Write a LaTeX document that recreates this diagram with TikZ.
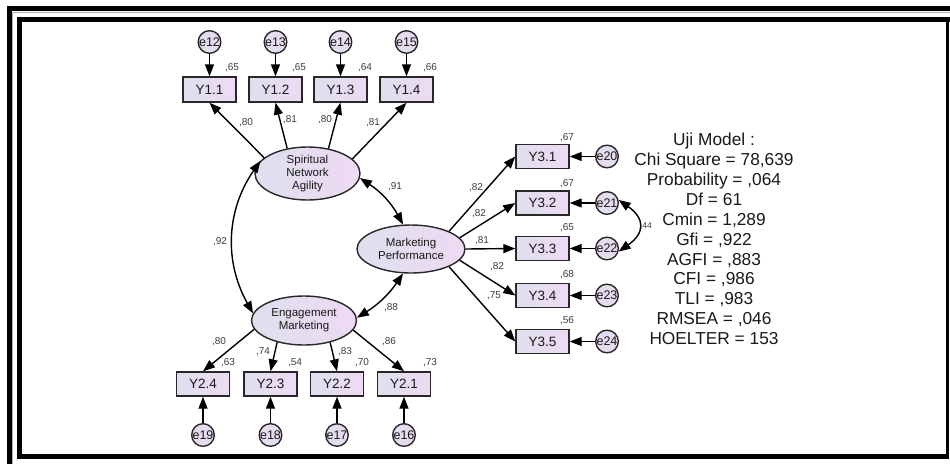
\documentclass[tikz,border=0pt]{standalone}
\usepackage{fontspec}
\setmainfont{Liberation Sans}
\usetikzlibrary{arrows.meta,shapes.geometric}

\definecolor{fillL}{RGB}{222,223,238}
\definecolor{fillR}{RGB}{238,218,243}
\definecolor{errfill}{RGB}{230,220,240}
\definecolor{edge}{RGB}{40,40,40}
\definecolor{txt}{RGB}{25,25,25}
\definecolor{framegray}{RGB}{175,175,175}

\begin{document}
\begin{tikzpicture}[x=1pt,y=1pt,
  obs/.style={draw=edge, line width=1.4pt, rectangle, minimum width=53pt,
    minimum height=25pt, inner sep=0pt, left color=fillL, right color=fillR,
    text=txt, font=\fontsize{13.5}{15}\selectfont},
  lat/.style={draw=edge, line width=1.4pt, ellipse, inner sep=0pt,
    left color=fillL, right color=fillR, text=txt, align=center,
    font=\fontsize{11.5}{13.3}\selectfont},
  err/.style={draw=edge, line width=1.4pt, circle, minimum size=22pt,
    inner sep=0pt, fill=errfill, text=txt, font=\fontsize{12.5}{14}\selectfont},
  coef/.style={inner sep=0pt, text=txt!85, font=\fontsize{10}{11}\selectfont},
  stats/.style={inner sep=0pt, align=center, text=txt,
    font=\fontsize{17.3}{19.9}\selectfont},
  tip/.tip={Triangle[length=12pt,width=9pt]},
  pth/.style={-tip, line width=1.4pt},
  cov/.style={tip-tip, line width=1.4pt},
]
\useasboundingbox (0,0) rectangle (950,-464);

% double frame
\fill[black] (7,-6) rectangle (950,-11);
\fill[black] (7,-6) rectangle (12,-464);
\draw[framegray, line width=1pt] (12.5,-464) -- (12.5,-12.5) -- (950,-12.5);
\fill[black] (17,-17) rectangle (950,-22);
\fill[black] (17,-17) rectangle (22,-459);
\fill[black] (17,-454) rectangle (948.5,-459);
\fill[black] (945.5,-17) rectangle (948.5,-459);

% latent variables
\node[lat, minimum width=105pt, minimum height=53pt] (spa) at (307.5,-173.5)
  {Spiritual\\Network\\Agility};
\node[lat, minimum width=108pt, minimum height=48pt] (mp) at (411,-249)
  {Marketing\\Performance};
\node[lat, minimum width=105pt, minimum height=49pt] (em) at (304,-320.5)
  {Engagement\\Marketing};

% indicators of Spiritual Network Agility
\node[obs] (y11) at (209.5,-89.5) {Y1.1};
\node[obs] (y12) at (275.5,-89.5) {Y1.2};
\node[obs] (y13) at (340.5,-89.5) {Y1.3};
\node[obs] (y14) at (406.5,-89.5) {Y1.4};
\node[err] (e12) at (209.5,-42) {e12};
\node[err] (e13) at (275.5,-42) {e13};
\node[err] (e14) at (340.5,-42) {e14};
\node[err] (e15) at (406.5,-42) {e15};

% indicators of Engagement Marketing
\node[obs, minimum height=24pt] (y24) at (203,-384) {Y2.4};
\node[obs, minimum height=24pt] (y23) at (270.5,-384) {Y2.3};
\node[obs, minimum height=24pt] (y22) at (337,-384) {Y2.2};
\node[obs, minimum height=24pt] (y21) at (404,-384) {Y2.1};
\node[err] (e19) at (203,-435) {e19};
\node[err] (e18) at (270.5,-435) {e18};
\node[err] (e17) at (337,-435) {e17};
\node[err] (e16) at (404,-435) {e16};

% indicators of Marketing Performance
\node[obs, minimum height=24pt] (y31) at (542.5,-156.5) {Y3.1};
\node[obs, minimum height=24pt] (y32) at (542.5,-203) {Y3.2};
\node[obs, minimum height=24pt] (y33) at (542.5,-248.5) {Y3.3};
\node[obs, minimum height=24pt] (y34) at (542.5,-295.5) {Y3.4};
\node[obs, minimum height=24pt] (y35) at (542.5,-341.5) {Y3.5};
\node[err] (e20) at (607,-156.5) {e20};
\node[err] (e21) at (607,-203) {e21};
\node[err] (e22) at (607,-248.5) {e22};
\node[err] (e23) at (607,-295.5) {e23};
\node[err] (e24) at (607,-341.5) {e24};

% error terms
\draw[pth] (e12) -- (y11);
\draw[pth] (e13) -- (y12);
\draw[pth] (e14) -- (y13);
\draw[pth] (e15) -- (y14);
\draw[pth] (e19) -- (y24);
\draw[pth] (e18) -- (y23);
\draw[pth] (e17) -- (y22);
\draw[pth] (e16) -- (y21);
\draw[pth] (e20) -- (y31);
\draw[pth] (e21) -- (y32);
\draw[pth] (e22) -- (y33);
\draw[pth] (e23) -- (y34);
\draw[pth] (e24) -- (y35);

% loadings
\draw[pth] (spa.160) -- (y11.south);
\draw[pth] (spa.129) -- (y12.south);
\draw[pth] (spa.50) -- (y13.south);
\draw[pth] (spa.18) -- (y14.south);
\draw[pth] (em.190) -- (y24.north);
\draw[pth] (em.219) -- (y23.north);
\draw[pth] (em.320) -- (y22.north);
\draw[pth] (em.349) -- (y21.north);
\draw[pth] (mp.25) -- (y31.west);
\draw[pth] (mp.13) -- (y32.west);
\draw[pth] (mp.0) -- (y33.west);
\draw[pth] (mp.-13) -- (y34.west);
\draw[pth] (mp.-25) -- (y35.west);

% covariances
\draw[cov] (spa.165) to[bend right=32] (em.172);
\draw[cov] (spa.-5) to[bend left=14] (mp.108);
\draw[cov] (em.3) to[bend right=12] (mp.-108);
\draw[cov] (e21.15) to[out=-35, in=35, looseness=1.6] (e22.-15);

% estimates
\node[coef] (r11) at (232,-68) {,65};
\node[coef] (r12) at (299,-68) {,65};
\node[coef] (r13) at (365,-68) {,64};
\node[coef] (r14) at (430,-68) {,66};
\node[coef] (l11) at (246,-123) {,80};
\node[coef] (l12) at (290,-120) {,81};
\node[coef] (l13) at (325,-120) {,80};
\node[coef] (l14) at (373,-123) {,81};
\node[coef] (c91) at (395,-187) {,91};
\node[coef] (c92) at (220,-242) {,92};
\node[coef] (c88) at (391,-308) {,88};
\node[coef] (l24) at (219,-342) {,80};
\node[coef] (l23) at (263,-352) {,74};
\node[coef] (l22) at (345,-352) {,83};
\node[coef] (l21) at (389,-342) {,86};
\node[coef] (r24) at (228,-363) {,63};
\node[coef] (r23) at (295,-363) {,54};
\node[coef] (r22) at (362,-363) {,70};
\node[coef] (r21) at (430,-363) {,73};
\node[coef] (l31) at (476,-188) {,82};
\node[coef] (l32) at (479,-214) {,82};
\node[coef] (l33) at (482,-241) {,81};
\node[coef] (l34) at (497,-267) {,82};
\node[coef] (l35) at (494,-296) {,75};
\node[coef] (r31) at (567,-138) {,67};
\node[coef] (r32) at (567,-184) {,67};
\node[coef] (r33) at (567,-228) {,65};
\node[coef] (r34) at (567,-275) {,68};
\node[coef] (r35) at (567,-321) {,56};
\node[coef, font=\fontsize{8.5}{10}\selectfont] (c44) at (646,-226) {,44};

% fit statistics
\node[stats] (fit) at (714,-239) {Uji Model :\\Chi Square = 78,639\\Probability = ,064\\Df = 61\\Cmin = 1,289\\Gfi = ,922\\AGFI = ,883\\CFI = ,986\\TLI = ,983\\RMSEA = ,046\\HOELTER = 153};
\end{tikzpicture}
\end{document}
